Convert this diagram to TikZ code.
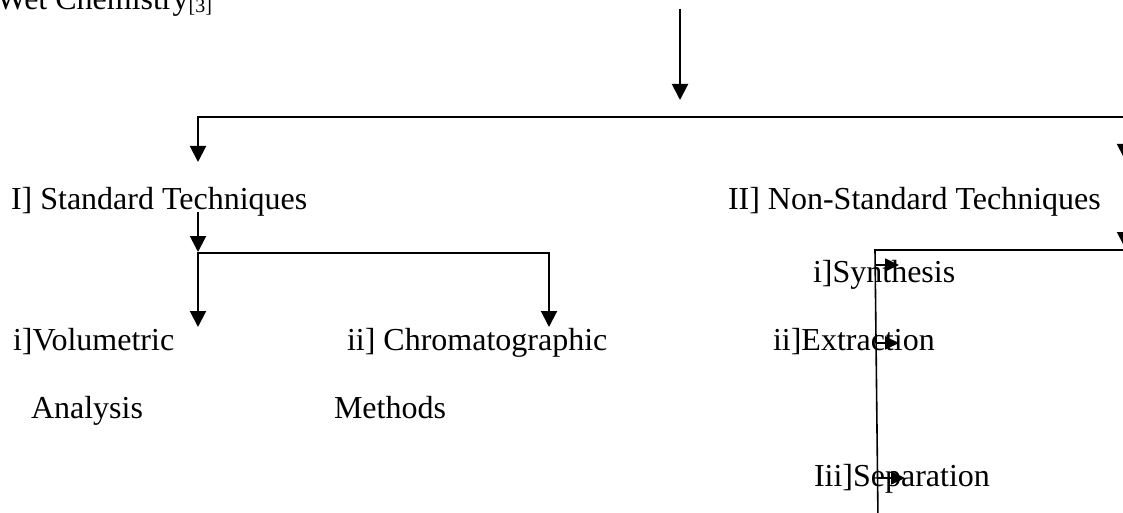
\documentclass[tikz,border=0pt]{standalone}
\usepackage{fontspec}
\setmainfont{Liberation Serif}
\usetikzlibrary{arrows.meta}

\begin{document}
\begin{tikzpicture}[
    x=1pt, y=-1pt,
    >={Triangle[width=16pt,length=16pt]},
    line width=2pt,
    term/.style={anchor=base west, inner sep=0pt, font=\fontsize{32}{38}\selectfont},
    feed/.style={->, >={Triangle[width=13pt,length=14pt]}, line width=1.6pt},
]
    \useasboundingbox (0,0) rectangle (1123,513);

    % texts
    \node[term, anchor=base east] (wet) at (213,10)
        {Wet Chemistry\raisebox{-3pt}{\fontsize{20}{24}\selectfont[3]}};
    \node[term] (std)  at (10,209)  {I] Standard Techniques};
    \node[term] (nstd) at (727,209) {II] Non-Standard Techniques};
    \node[term] (vol)  at (12,350)  {i]Volumetric};
    \node[term] (volB) at (30,418)  {Analysis};
    \node[term] (chr)  at (346,350) {ii] Chromatographic};
    \node[term] (chrB) at (333,418) {Methods};
    \node[term] (syn)  at (812,282) {i]Synthesis};
    \node[term] (ext)  at (772,350) {ii]Extraction};
    \node[term] (sep)  at (813,486) {Iii]Separation};

    % junctions
    \coordinate (src)     at (680,9);
    \coordinate (srcEnd)  at (680,100);
    \coordinate (busL)    at (198,117);
    \coordinate (busR)    at (1125,117);
    \coordinate (stdIn)   at (198,162);
    \coordinate (nstdIn)  at (1125,160);
    \coordinate (stdOut)  at (198,212);
    \coordinate (stdTip)  at (198,252);
    \coordinate (subL)    at (198,253);
    \coordinate (subR)    at (549,253);
    \coordinate (volIn)   at (198,327);
    \coordinate (chrIn)   at (549,327);
    \coordinate (nstdOut) at (1125,215);
    \coordinate (nstdTip) at (1125,248);
    \coordinate (brR)     at (1125,250);
    \coordinate (brL)     at (875,250);
    \coordinate (brEnd)   at (878,520);
    \coordinate (synFrom) at (875.2,265);
    \coordinate (synTo)   at (899,265);
    \coordinate (extFrom) at (876,343);
    \coordinate (extTo)   at (899,343);
    \coordinate (sepFrom) at (877.5,478);
    \coordinate (sepTo)   at (905,478);

    % connectors
    \draw[->] (src) -- (srcEnd);
    \draw[<->] (stdIn) -- (busL) -- (busR) -- (nstdIn);
    \draw[->] (stdOut) -- (stdTip);
    \draw[<->] (volIn) -- (subL) -- (subR) -- (chrIn);
    \draw[->] (nstdOut) -- (nstdTip);
    \draw[line width=1.6pt] (brR) -- (brL) -- (brEnd);
    \draw[feed] (synFrom) -- (synTo);
    \draw[feed] (extFrom) -- (extTo);
    \draw[feed] (sepFrom) -- (sepTo);
\end{tikzpicture}
\end{document}
